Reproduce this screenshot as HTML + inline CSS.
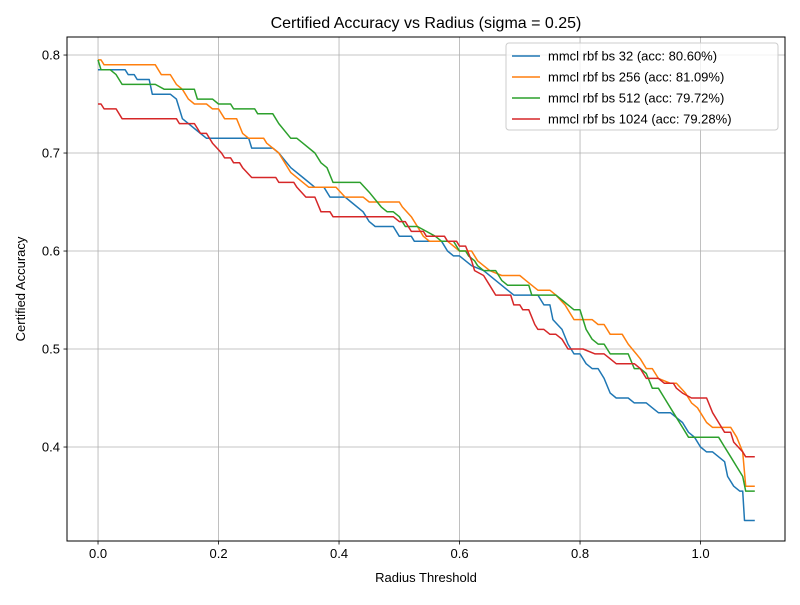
<!DOCTYPE html>
<html><head><meta charset="utf-8"><style>
body{margin:0;background:#fff}
svg{font-family:"Liberation Sans","DejaVu Sans",sans-serif}
</style></head><body>
<svg id="chart" width="800" height="600" xmlns="http://www.w3.org/2000/svg">
<rect width="800" height="600" fill="#fff"/>
<text x="426" y="28" font-size="16" text-anchor="middle">Certified Accuracy vs Radius (sigma = 0.25)</text>
<g id="grid"></g>
<g id="series"></g>
<rect x="67" y="37" width="718" height="504" fill="none" stroke="#000" stroke-width="1"/>
<g id="ticks"></g>
<text x="426" y="582" font-size="13" text-anchor="middle">Radius Threshold</text>
<text x="25" y="289" font-size="13" text-anchor="middle" transform="rotate(-90 25 289)">Certified Accuracy</text>
<g id="legend"></g>
</svg>
<script>
const xTicks=[0,0.2,0.4,0.6,0.8,1.0];
const xTickLabels=["0.0","0.2","0.4","0.6","0.8","1.0"];
const yTicks=[0.4,0.5,0.6,0.7,0.8];
const yTickLabels=["0.4","0.5","0.6","0.7","0.8"];
const seriesNames=["mmcl rbf bs 32 (acc: 80.60%)","mmcl rbf bs 256 (acc: 81.09%)","mmcl rbf bs 512 (acc: 79.72%)","mmcl rbf bs 1024 (acc: 79.28%)"];
const seriesColors=["#1f77b4","#ff7f0e","#2ca02c","#d62728"];
const blueR=[0,0.045,0.05,0.06,0.065,0.085,0.09,0.12,0.13,0.14,0.16,0.18,0.25,0.255,0.29,0.3,0.32,0.34,0.36,0.375,0.385,0.41,0.42,0.44,0.45,0.46,0.49,0.5,0.52,0.525,0.57,0.58,0.59,0.6,0.62,0.64,0.66,0.68,0.69,0.73,0.74,0.75,0.755,0.77,0.78,0.79,0.8,0.81,0.82,0.83,0.84,0.85,0.86,0.88,0.89,0.91,0.92,0.93,0.95,0.96,0.97,0.98,0.99,1.0,1.01,1.02,1.03,1.04,1.045,1.055,1.065,1.07,1.073,1.09];
const blueA=[0.785,0.785,0.78,0.78,0.775,0.775,0.76,0.76,0.755,0.735,0.725,0.715,0.715,0.705,0.705,0.7,0.685,0.675,0.665,0.665,0.655,0.655,0.65,0.64,0.63,0.625,0.625,0.615,0.615,0.61,0.61,0.6,0.595,0.595,0.585,0.58,0.57,0.56,0.555,0.555,0.545,0.545,0.53,0.52,0.505,0.495,0.495,0.485,0.48,0.48,0.47,0.455,0.45,0.45,0.445,0.445,0.44,0.435,0.435,0.43,0.425,0.415,0.41,0.4,0.395,0.395,0.39,0.385,0.37,0.36,0.355,0.355,0.325,0.325];
const orangeR=[0,0.005,0.01,0.095,0.105,0.12,0.13,0.14,0.15,0.16,0.18,0.19,0.2,0.21,0.23,0.24,0.25,0.275,0.28,0.3,0.31,0.32,0.34,0.35,0.395,0.41,0.44,0.45,0.5,0.505,0.52,0.53,0.54,0.55,0.58,0.6,0.62,0.63,0.65,0.67,0.7,0.71,0.73,0.75,0.76,0.775,0.79,0.82,0.83,0.84,0.85,0.87,0.88,0.9,0.91,0.92,0.93,0.95,0.96,0.975,0.985,0.995,1.0,1.01,1.02,1.05,1.06,1.07,1.075,1.09];
const orangeA=[0.795,0.795,0.79,0.79,0.78,0.78,0.77,0.765,0.755,0.75,0.75,0.745,0.745,0.735,0.735,0.72,0.715,0.715,0.71,0.7,0.69,0.68,0.67,0.665,0.665,0.655,0.655,0.65,0.65,0.645,0.635,0.625,0.615,0.61,0.61,0.6,0.6,0.59,0.58,0.575,0.575,0.57,0.56,0.56,0.555,0.545,0.53,0.53,0.525,0.525,0.515,0.515,0.505,0.49,0.48,0.48,0.47,0.465,0.465,0.455,0.445,0.44,0.435,0.425,0.42,0.42,0.41,0.395,0.36,0.36];
const greenR=[0,0.005,0.02,0.03,0.04,0.095,0.11,0.16,0.165,0.19,0.2,0.22,0.225,0.26,0.265,0.29,0.3,0.32,0.33,0.34,0.36,0.37,0.38,0.39,0.435,0.45,0.47,0.48,0.49,0.5,0.51,0.53,0.545,0.56,0.57,0.59,0.595,0.6,0.61,0.615,0.625,0.63,0.64,0.66,0.67,0.68,0.715,0.72,0.76,0.77,0.79,0.8,0.81,0.82,0.83,0.84,0.85,0.88,0.89,0.9,0.91,0.92,0.93,0.94,0.955,0.97,0.98,1.03,1.04,1.05,1.06,1.07,1.075,1.09];
const greenA=[0.795,0.785,0.785,0.78,0.77,0.77,0.765,0.765,0.755,0.755,0.75,0.75,0.745,0.745,0.74,0.74,0.73,0.715,0.715,0.71,0.7,0.69,0.685,0.67,0.67,0.66,0.645,0.64,0.64,0.635,0.625,0.625,0.62,0.615,0.61,0.61,0.605,0.6,0.6,0.595,0.59,0.585,0.58,0.58,0.57,0.565,0.565,0.555,0.555,0.55,0.54,0.54,0.52,0.51,0.505,0.505,0.495,0.495,0.48,0.48,0.475,0.46,0.46,0.45,0.435,0.42,0.41,0.41,0.4,0.39,0.38,0.37,0.355,0.355];
const redR=[0,0.005,0.01,0.03,0.04,0.13,0.135,0.16,0.17,0.18,0.19,0.205,0.21,0.22,0.225,0.235,0.24,0.255,0.295,0.3,0.325,0.33,0.345,0.36,0.37,0.385,0.39,0.49,0.5,0.51,0.515,0.52,0.54,0.545,0.575,0.58,0.595,0.6,0.61,0.62,0.625,0.64,0.65,0.66,0.685,0.69,0.7,0.705,0.715,0.725,0.73,0.74,0.75,0.76,0.77,0.78,0.805,0.825,0.84,0.85,0.86,0.89,0.9,0.91,0.93,0.94,0.955,0.96,0.97,0.985,1.01,1.02,1.03,1.04,1.05,1.055,1.07,1.075,1.09];
const redA=[0.75,0.75,0.745,0.745,0.735,0.735,0.73,0.73,0.72,0.72,0.71,0.7,0.695,0.695,0.69,0.69,0.685,0.675,0.675,0.67,0.67,0.665,0.655,0.655,0.64,0.64,0.635,0.635,0.63,0.63,0.625,0.62,0.62,0.615,0.615,0.61,0.61,0.605,0.605,0.59,0.58,0.575,0.565,0.555,0.555,0.545,0.545,0.54,0.54,0.525,0.52,0.52,0.515,0.515,0.51,0.5,0.5,0.495,0.495,0.49,0.485,0.485,0.48,0.47,0.47,0.465,0.465,0.46,0.455,0.45,0.45,0.435,0.425,0.415,0.415,0.405,0.395,0.39,0.39];

const NS="http://www.w3.org/2000/svg";
const X0=67,X1=785,Y0=541,Y1=37,XMIN=-0.0515,XMAX=1.1402,YMIN=0.3041,YMAX=0.8184;
function sx(v){return X0+(v-XMIN)/(XMAX-XMIN)*(X1-X0);}
function sy(v){return Y0-(v-YMIN)/(YMAX-YMIN)*(Y0-Y1);}
function mk(tag,attrs,parent){const e=document.createElementNS(NS,tag);for(const k in attrs)e.setAttribute(k,attrs[k]);parent.appendChild(e);return e;}
const grid=document.getElementById('grid'),ticks=document.getElementById('ticks'),ser=document.getElementById('series'),leg=document.getElementById('legend');
xTicks.forEach((t,i)=>{const x=sx(t);
 const g=mk('line',{x1:x,x2:x,y1:Y1,y2:Y0,stroke:'#b0b0b0','stroke-width':0.8},grid);
 
 
 const tk=mk('line',{x1:x,x2:x,y1:Y0,y2:Y0+3.5,stroke:'#000','stroke-width':0.8},ticks);
 
 
 const tx=mk('text',{x:x,y:Y0+17,'font-size':13,'text-anchor':'middle'},ticks);tx.textContent=xTickLabels[i];
 
 
});
yTicks.forEach((t,i)=>{const y=sy(t);
 const g=mk('line',{x1:X0,x2:X1,y1:y,y2:y,stroke:'#b0b0b0','stroke-width':0.8},grid);
 
 
 const tk=mk('line',{x1:X0-3.5,x2:X0,y1:y,y2:y,stroke:'#000','stroke-width':0.8},ticks);
 
 
 const tx=mk('text',{x:X0-7,y:y+4.5,'font-size':13,'text-anchor':'end'},ticks);tx.textContent=yTickLabels[i];
 
 
});
const allR=[blueR,orangeR,greenR,redR],allA=[blueA,orangeA,greenA,redA];
const lineNames=['line-bs-32','line-bs-256','line-bs-512','line-bs-1024'];
allR.forEach((rs,k)=>{const pts=rs.map((r,i)=>sx(r).toFixed(1)+','+sy(allA[k][i]).toFixed(1)).join(' ');
 const p=mk('polyline',{points:pts,fill:'none',stroke:seriesColors[k],'stroke-width':1.5,'stroke-linejoin':'round'},ser);
 
 
});
const lb=mk('rect',{x:506,y:43,width:272,height:87,rx:3,fill:'#fff','fill-opacity':0.8,stroke:'#ccc'},leg);


seriesNames.forEach((n,k)=>{const y=56+k*21;
 const g=mk('g',{},leg);
 
 
 mk('line',{x1:512,x2:540,y1:y,y2:y,stroke:seriesColors[k],'stroke-width':1.5},g);
 const t=mk('text',{x:548,y:y+4.5,'font-size':13},g);t.textContent=n;
});
</script>
</body></html>
